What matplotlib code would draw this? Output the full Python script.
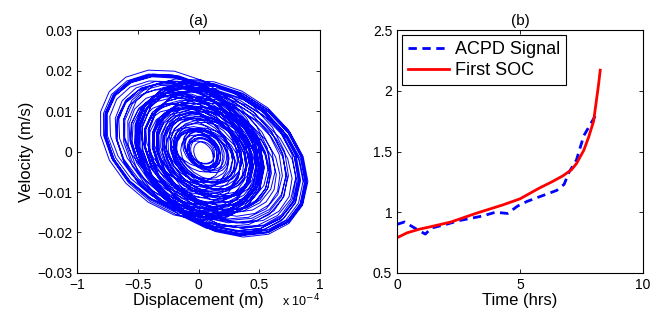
import numpy as np
import matplotlib
matplotlib.use("Agg")
import matplotlib.pyplot as plt

plt.rcParams['font.family'] = ['Liberation Sans', 'DejaVu Sans']

# (a) phase portrait, one entry per loop: amplitudes and centre (x in 1e-4 m, v in 0.01 m/s)
amp_x = [0.60, 0.66, 0.70, 0.68, 0.62, 0.55, 0.47, 0.38, 0.18, 0.12,
         0.30, 0.40, 0.52, 0.60, 0.65, 0.63, 0.58, 0.50, 0.42, 0.34,
         0.16, 0.10, 0.26, 0.35, 0.46, 0.55, 0.62, 0.67, 0.70, 0.66,
         0.59, 0.49, 0.39, 0.31, 0.14, 0.08, 0.23, 0.32, 0.43, 0.53,
         0.61, 0.66, 0.68, 0.64, 0.57, 0.48, 0.37, 0.28, 0.12, 0.07,
         0.22, 0.33, 0.45, 0.56, 0.64, 0.69, 0.71, 0.67, 0.60, 0.51,
         0.41, 0.32, 0.13, 0.30, 0.40, 0.50, 0.58, 0.64, 0.62, 0.55,
         0.45, 0.35, 0.17, 0.10, 0.29, 0.38, 0.49, 0.59, 0.66, 0.70,
         0.68, 0.61, 0.52, 0.42, 0.33, 0.15, 0.08, 0.24, 0.36, 0.48]
amp_v = [1.65, 1.80, 1.90, 1.85, 1.70, 1.50, 1.30, 1.05, 0.50, 0.35,
         0.85, 1.10, 1.45, 1.65, 1.80, 1.75, 1.60, 1.40, 1.15, 0.95,
         0.45, 0.30, 0.72, 0.95, 1.25, 1.50, 1.70, 1.85, 1.92, 1.80,
         1.62, 1.35, 1.08, 0.85, 0.40, 0.25, 0.64, 0.88, 1.18, 1.46,
         1.68, 1.82, 1.88, 1.76, 1.57, 1.32, 1.02, 0.77, 0.35, 0.22,
         0.60, 0.90, 1.24, 1.54, 1.76, 1.90, 1.95, 1.84, 1.65, 1.40,
         1.13, 0.88, 0.38, 0.82, 1.10, 1.38, 1.60, 1.76, 1.70, 1.51,
         1.24, 0.96, 0.48, 0.30, 0.80, 1.05, 1.35, 1.62, 1.82, 1.92,
         1.87, 1.68, 1.43, 1.16, 0.91, 0.42, 0.25, 0.66, 0.99, 1.32]
cen_x = [0.20, 0.22, 0.20, 0.15, 0.10, 0.08, 0.05, 0.05, 0.06, 0.05,
         -0.10, -0.15, -0.17, -0.18, -0.15, -0.10, -0.05, 0.00, 0.03, 0.05,
         0.05, 0.05, 0.08, 0.12, 0.18, 0.22, 0.25, 0.22, 0.18, 0.14,
         0.10, 0.08, 0.06, 0.05, 0.04, 0.05, 0.02, -0.04, -0.08, -0.11,
         -0.13, -0.15, -0.14, -0.10, -0.05, 0.00, 0.03, 0.05, 0.06, 0.05,
         0.08, 0.10, 0.14, 0.17, 0.19, 0.20, 0.18, 0.15, 0.12, 0.09,
         0.06, 0.04, 0.03, 0.00, -0.05, -0.10, -0.14, -0.16, -0.12, -0.06,
         0.00, 0.04, 0.06, 0.05, 0.08, 0.12, 0.18, 0.22, 0.20, 0.14,
         0.06, -0.02, -0.08, -0.10, -0.05, 0.00, 0.04, 0.06, 0.08, 0.10]
cen_v = [-0.20, -0.25, -0.18, -0.15, -0.12, -0.05, -0.10, 0.00, -0.08, 0.05,
         0.12, 0.18, 0.20, 0.15, 0.18, 0.08, 0.05, -0.02, 0.00, -0.08,
         -0.05, 0.02, -0.10, -0.10, -0.20, -0.22, -0.28, -0.20, -0.18, -0.12,
         -0.12, -0.05, -0.10, 0.00, -0.05, 0.05, 0.00, 0.05, 0.10, 0.08,
         0.15, 0.12, 0.18, 0.10, 0.08, -0.02, -0.05, 0.00, -0.10, 0.02,
         -0.10, -0.08, -0.15, -0.18, -0.20, -0.22, -0.15, -0.18, -0.10, -0.12,
         -0.05, 0.00, -0.05, 0.02, 0.08, 0.10, 0.15, 0.18, 0.12, 0.05,
         0.00, -0.08, -0.05, 0.00, -0.10, -0.12, -0.18, -0.25, -0.20, -0.15,
         -0.05, 0.05, 0.10, 0.12, 0.05, 0.00, -0.06, -0.02, -0.10, -0.12]

# (b) crack growth vs time
acpd_t = [0.0, 0.3, 0.8, 1.15, 1.4, 2.0, 2.5, 3.0, 3.5, 4.0, 4.5, 4.9, 5.3, 5.7, 6.1,
          6.5, 6.8, 7.0, 7.3, 7.6, 8.0, 8.15]
acpd_v = [0.90, 0.92, 0.86, 0.82, 0.87, 0.90, 0.93, 0.95, 0.97, 1.00, 0.99, 1.05, 1.09,
          1.12, 1.15, 1.18, 1.23, 1.33, 1.43, 1.63, 1.77, 1.82]
soc_t = [0.0, 0.4, 0.9, 1.35, 2.2, 3.2, 4.3, 5.0, 5.8, 6.3, 6.75, 7.1, 7.3, 7.6, 7.8,
         8.0, 8.1, 8.2, 8.27]
soc_v = [0.79, 0.83, 0.86, 0.88, 0.92, 0.99, 1.06, 1.11, 1.20, 1.25, 1.30, 1.35, 1.40,
         1.51, 1.62, 1.75, 1.90, 2.05, 2.17]

fig = plt.figure(figsize=(6.64, 3.2), dpi=100)
ax1 = fig.add_axes([0.116, 0.147, 0.366, 0.759])
ax2 = fig.add_axes([0.598, 0.147, 0.370, 0.759])

# build the trajectory loop by loop
phi = 0.3
xs, vs = [], []
n = len(amp_x)
for k in range(n):
    k2 = min(k + 1, n - 1)
    th = np.linspace(0, 2 * np.pi, 20)[:-1]
    f = th / (2 * np.pi)
    a = amp_x[k] + (amp_x[k2] - amp_x[k]) * f
    b = amp_v[k] + (amp_v[k2] - amp_v[k]) * f
    cx = cen_x[k] + (cen_x[k2] - cen_x[k]) * f
    cv = cen_v[k] + (cen_v[k2] - cen_v[k]) * f
    xs.append(cx + a * np.cos(th))
    vs.append(cv - b * np.sin(th + phi))
xs = np.concatenate(xs)
vs = np.concatenate(vs) * 0.01

ax1.plot(xs, vs, color='#0000ff', lw=0.7)
ax1.set_xlim(-1, 1)
ax1.set_ylim(-0.03, 0.03)
ax1.set_xticks([-1, -0.5, 0, 0.5, 1])
ax1.set_xticklabels(['\u22121', '\u22120.5', '0', '0.5', '1'])
ax1.set_yticks([-0.03, -0.02, -0.01, 0, 0.01, 0.02, 0.03])
ax1.set_yticklabels(['\u22120.03', '\u22120.02', '\u22120.01', '0', '0.01', '0.02', '0.03'])
ax1.set_xlabel('Displacement (m)', fontsize=12, labelpad=1)
ax1.set_ylabel('Velocity (m/s)', fontsize=12, labelpad=2)
ax1.set_title('(a)', fontsize=11, pad=4)
ax1.text(1.0, -0.115, 'x 10$^{-4}$', transform=ax1.transAxes, ha='right', va='center', fontsize=9)

ax2.plot(acpd_t, acpd_v, '--', color='#0000ff', lw=2, dashes=(3, 2), label='ACPD Signal')
ax2.plot(soc_t, soc_v, '-', color='#ff0000', lw=2, label='First SOC')
ax2.set_xlim(0, 10)
ax2.set_ylim(0.5, 2.5)
ax2.set_xticks([0, 5, 10])
ax2.set_yticks([0.5, 1, 1.5, 2, 2.5])
ax2.set_yticklabels(['0.5', '1', '1.5', '2', '2.5'])
ax2.set_xlabel('Time (hrs)', fontsize=12, labelpad=1)
ax2.set_title('(b)', fontsize=11, pad=4)
leg = ax2.legend(loc='upper left', fontsize=13, fancybox=False, edgecolor='black',
                 framealpha=1, borderpad=0.3, handlelength=2.3, labelspacing=0.25,
                 handletextpad=0.3, borderaxespad=0.3)
leg.get_frame().set_linewidth(0.8)

for ax in (ax1, ax2):
    ax.tick_params(direction='in', top=True, right=True, labelsize=10, length=3, width=0.6)
    for s in ax.spines.values():
        s.set_linewidth(0.8)

fig.savefig('out.png', dpi=100)
